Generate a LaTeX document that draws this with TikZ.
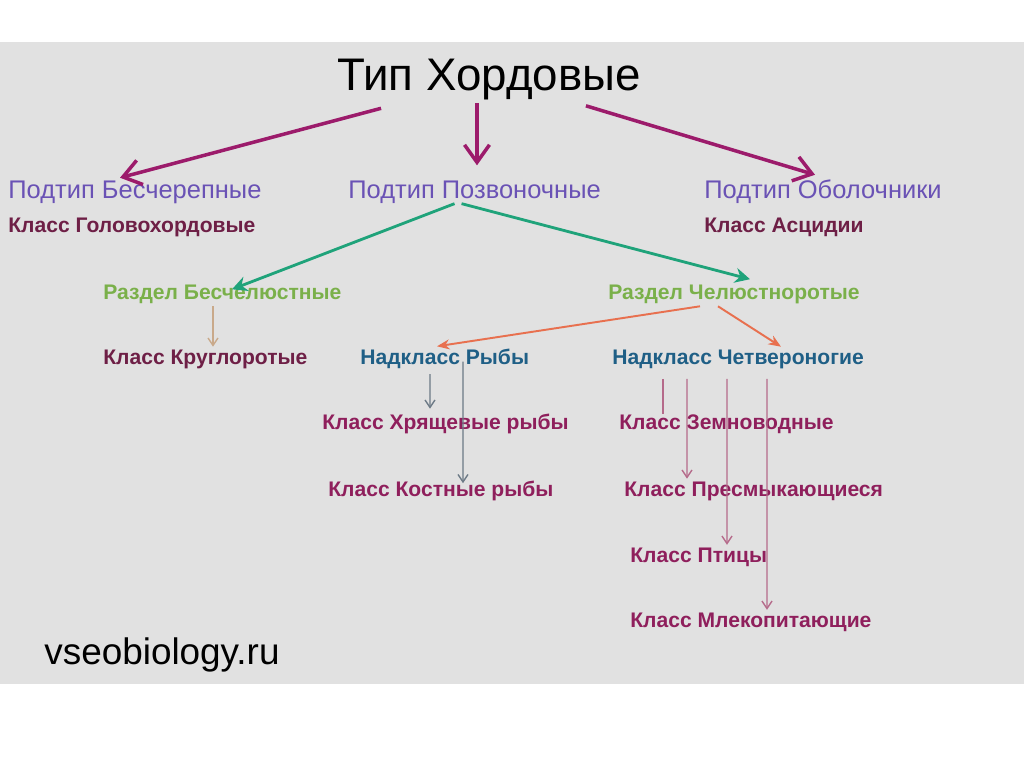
\documentclass[tikz,border=0pt]{standalone}
\usepackage{fontspec}
\setmainfont{Liberation Sans}
\usetikzlibrary{arrows.meta}
\definecolor{fon}{HTML}{E1E1E1}
\definecolor{lila}{HTML}{6A52B5}
\definecolor{bordo}{HTML}{6E1F46}
\definecolor{malina}{HTML}{8F1F5C}
\definecolor{strelka}{HTML}{9C1B6B}
\definecolor{zelen}{HTML}{1FA37A}
\definecolor{salat}{HTML}{7AB04A}
\definecolor{oranzh}{HTML}{E8704F}
\definecolor{sinij}{HTML}{1F5F86}
\definecolor{seryj}{HTML}{6C7A86}
\definecolor{bezh}{HTML}{C9A98A}
\definecolor{rozov}{HTML}{B56A8A}
\begin{document}
\begin{tikzpicture}[
  txt/.style={anchor=west,inner sep=0pt},
  podtip/.style={txt,text=lila,font=\fontsize{14.5}{16}\selectfont},
  klass/.style={txt,text=malina,font=\bfseries\fontsize{12}{14}\selectfont},
  razdel/.style={txt,text=salat,font=\bfseries\fontsize{12}{14}\selectfont},
  nadkl/.style={txt,text=sinij,font=\bfseries\fontsize{12}{14}\selectfont},
  tip/.style={strelka,line width=2pt,-{Straight Barb[length=3.5mm,width=5mm,line width=2pt]}},
  ot/.style={zelen,line width=1.6pt,-{Stealth[length=3mm,width=3mm]}},
  vetv/.style={oranzh,line width=1.1pt,-{Stealth[length=2.5mm,width=2mm]}},
  vniz/.style={line width=0.8pt,-{Straight Barb[length=1.5mm,width=2mm]}}]
\useasboundingbox (0,0) rectangle (20.48,-15.36);
\fill[fon] (0,-0.84) rectangle (20.48,-13.68);
% type and subtypes
\node[anchor=center,inner sep=0pt,font=\fontsize{26}{28}\selectfont] (title) at (9.78,-1.60) {Тип Хордовые};
\node[podtip] (bes) at (0.16,-3.84) {Подтип Бесчерепные};
\node[klass,text=bordo] (golov) at (0.16,-4.54) {Класс Головохордовые};
\node[podtip] (pozv) at (6.96,-3.84) {Подтип Позвоночные};
\node[podtip] (obol) at (14.08,-3.84) {Подтип Оболочники};
\node[klass,text=bordo] (asc) at (14.08,-4.54) {Класс Асцидии};
% sections
\node[razdel] (besch) at (2.06,-5.88) {Раздел Бесчелюстные};
\node[razdel] (chel) at (12.16,-5.88) {Раздел Челюстноротые};
\node[klass,text=bordo] (krug) at (2.06,-7.18) {Класс Круглоротые};
\node[nadkl] (ryby) at (7.20,-7.18) {Надкласс Рыбы};
\node[nadkl] (chetv) at (12.24,-7.18) {Надкласс Четвероногие};
% classes
\node[klass] (hryasch) at (6.44,-8.48) {Класс Хрящевые рыбы};
\node[klass] (kost) at (6.56,-9.82) {Класс Костные рыбы};
\node[klass] (zemn) at (12.38,-8.48) {Класс Земноводные};
\node[klass] (presm) at (12.48,-9.82) {Класс Пресмыкающиеся};
\node[klass] (ptic) at (12.60,-11.14) {Класс Птицы};
\node[klass] (mlek) at (12.60,-12.44) {Класс Млекопитающие};
\node[txt,font=\fontsize{21}{23}\selectfont] (site) at (0.88,-13.10) {vseobiology.ru};
% arrows
\coordinate (tp) at ([shift={(-0.24,-0.05)}]title.south);
\draw[tip] ([shift={(0.88,-0.15)}]title.south west) -- ([shift={(2.24,0.05)}]bes.north west);
\draw[tip,shorten >=3mm] (tp) -- (tp |- pozv.north);
\draw[tip] ([shift={(-1.1,-0.1)}]title.south east) -- ([shift={(2.22,0.1)}]obol.north west);
\draw[ot] ([xshift=-0.4cm]pozv.south) -- ([shift={(2.58,-0.1)}]besch.north west);
\draw[ot] ([xshift=-0.26cm]pozv.south) -- ([shift={(2.84,0.1)}]chel.north west);
\draw[vetv] ([shift={(1.84,-0.05)}]chel.south west) -- ([shift={(1.54,0.05)}]ryby.north west);
\draw[vetv] ([shift={(2.2,-0.05)}]chel.south west) -- ([shift={(3.38,0.05)}]chetv.north west);
\draw[vniz,bezh] ([shift={(2.2,-0.05)}]besch.south west) -- ([shift={(2.2,0.05)}]krug.north west);
\draw[vniz,seryj] ([shift={(1.4,-0.1)}]ryby.south west) -- ([shift={(2.16,0.1)}]hryasch.north west);
\draw[vniz,seryj] ([shift={(2.06,0.15)}]ryby.south west) -- ([shift={(2.7,-0.05)}]kost.north west);
\draw[rozov,line width=0.8pt] ([shift={(1.02,-0.2)}]chetv.south west) -- ([shift={(0.88,0.0)}]zemn.north west);
\draw[vniz,rozov] ([shift={(1.5,-0.2)}]chetv.south west) -- ([shift={(1.26,0.05)}]presm.north west);
\draw[vniz,rozov] ([shift={(2.3,-0.2)}]chetv.south west) -- ([shift={(1.94,0.05)}]ptic.north west);
\draw[vniz,rozov] ([shift={(3.1,-0.2)}]chetv.south west) -- ([shift={(2.74,0.05)}]mlek.north west);
\end{tikzpicture}
\end{document}
